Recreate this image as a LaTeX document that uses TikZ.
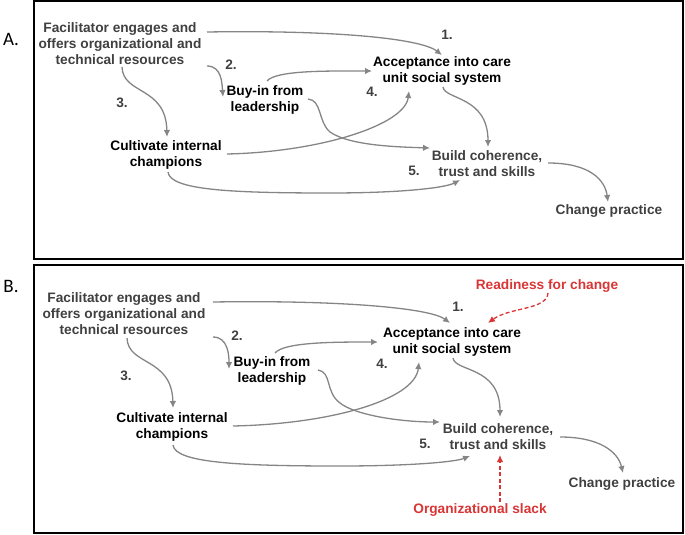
\documentclass[tikz,border=0pt]{standalone}
\usepackage{fontspec}
\setmainfont{Liberation Sans}
\newfontfamily\labfont{Carlito}
\usetikzlibrary{arrows.meta}
\definecolor{dkgray}{HTML}{404040}
\definecolor{arrgray}{HTML}{858585}
\definecolor{redc}{HTML}{D93535}
\tikzset{
  txt/.style={font=\fontsize{13.7}{16}\selectfont\bfseries, align=center, inner sep=0pt},
  gtxt/.style={txt, text=dkgray},
  btxt/.style={txt, text=black},
  rtxt/.style={txt, text=redc},
  numlab/.style={txt, text=dkgray},
  conn/.style={draw=arrgray, line width=1.3pt, -{Latex[length=7pt,width=6.5pt]}},
  rconn/.style={draw=redc, line width=1.3pt, dash pattern=on 4pt off 2.5pt, -{Latex[length=7pt,width=6.5pt]}},
  panel/.style={draw=black, line width=2pt},
  plab/.style={font=\labfont\fontsize{19}{21}\selectfont, inner sep=0pt}
}
\begin{document}
\begin{tikzpicture}[x=1pt,y=-1pt]
\useasboundingbox (0,0) rectangle (685,535);
% panels
\draw[panel] (34,1) rectangle (683,259);
\draw[panel] (34,265) rectangle (683,533);
\node[plab] (labA) at (11,39) {A.};
\node[plab] (labB) at (11,286) {B.};

% ---------- Panel A ----------
\node[gtxt] (facA) at (120,43.5) {Facilitator engages and\\offers organizational and\\technical resources};
\node[btxt] (buyA) at (265,99.5) {Buy-in from\\leadership};
\node[btxt] (cultA) at (166,155) {Cultivate internal\\champions};
\node[btxt] (accA) at (442,71) {Acceptance into care\\unit social system};
\node[gtxt] (buildA) at (487,163.5) {Build coherence,\\trust and skills};
\node[gtxt] (chA) at (609,211) {Change practice};
\node[numlab] (nA1) at (447,35) {1.};
\node[numlab] (nA2) at (231,65) {2.};
\node[numlab] (nA3) at (122,103) {3.};
\node[numlab] (nA4) at (372,92) {4.};
\node[numlab] (nA5) at (414,171) {5.};

\draw[conn] ([shift={(87,-11.5)}]facA.center) .. controls (330,30) and (420,38) .. ([shift={(0,-16)}]accA.center);
\draw[conn] ([shift={(87,22.5)}]facA.center) .. controls (222,66) and (222,84) .. ([shift={(-42,-2.5)}]buyA.center);
\draw[conn] ([shift={(2,23.5)}]facA.center) .. controls (123,95) and (166,86) .. ([shift={(1,-18)}]cultA.center);
\draw[conn] ([shift={(2,-18.5)}]buyA.center) .. controls (276,70) and (330,71) .. ([shift={(-70,0)}]accA.center);
\draw[conn] ([shift={(43,-0.5)}]buyA.center) .. controls (322,100) and (318,122) .. (330,132) .. controls (350,146) and (400,147) .. ([shift={(-57,-15.5)}]buildA.center);
\draw[conn] ([shift={(61,-1)}]cultA.center) .. controls (320,152) and (405,125) .. ([shift={(-33,20)}]accA.center);
\draw[conn] ([shift={(2,17)}]cultA.center) .. controls (170,190) and (230,193) .. (330,193) .. controls (400,193) and (445,188) .. ([shift={(-27,16.5)}]buildA.center);
\draw[conn] ([shift={(1,16)}]accA.center) .. controls (445,100) and (488,96) .. ([shift={(1,-16.5)}]buildA.center);
\draw[conn] ([shift={(61,-0.5)}]buildA.center) .. controls (590,163) and (605,180) .. ([shift={(-1,-9)}]chA.center);

% ---------- Panel B ----------
\node[gtxt] (facB) at (124,314) {Facilitator engages and\\offers organizational and\\technical resources};
\node[btxt] (buyB) at (272,370.5) {Buy-in from\\leadership};
\node[btxt] (cultB) at (172,426.5) {Cultivate internal\\champions};
\node[btxt] (accB) at (452,342) {Acceptance into care\\unit social system};
\node[gtxt] (buildB) at (498,436.5) {Build coherence,\\trust and skills};
\node[gtxt] (chB) at (622,484) {Change practice};
\node[rtxt] (readB) at (547,286) {Readiness for change};
\node[rtxt] (slackB) at (480,510) {Organizational slack};
\node[numlab] (nB1) at (458,307) {1.};
\node[numlab] (nB2) at (237,336) {2.};
\node[numlab] (nB3) at (126,376) {3.};
\node[numlab] (nB4) at (382,364) {4.};
\node[numlab] (nB5) at (425,444) {5.};

\draw[conn] ([shift={(89,-12)}]facB.center) .. controls (340,300) and (430,308) .. ([shift={(-2,-19)}]accB.center);
\draw[conn] ([shift={(89,23)}]facB.center) .. controls (228,337) and (229,355) .. ([shift={(-43,-1.5)}]buyB.center);
\draw[conn] ([shift={(3,24)}]facB.center) .. controls (128,366) and (172,357) .. ([shift={(1,-18.5)}]cultB.center);
\draw[conn] ([shift={(3,-17.5)}]buyB.center) .. controls (284,342) and (335,342) .. ([shift={(-74,0)}]accB.center);
\draw[conn] ([shift={(46,-0.5)}]buyB.center) .. controls (332,372) and (325,392) .. (340,403) .. controls (355,415) and (400,422) .. ([shift={(-58,-14.5)}]buildB.center);
\draw[conn] ([shift={(61,-0.5)}]cultB.center) .. controls (330,424) and (415,400) .. ([shift={(-33,20)}]accB.center);
\draw[conn] ([shift={(1,18.5)}]cultB.center) .. controls (175,463) and (240,466) .. (340,466) .. controls (410,466) and (455,462) .. ([shift={(-28,19.5)}]buildB.center);
\draw[conn] ([shift={(1,16)}]accB.center) .. controls (455,372) and (500,366) .. ([shift={(2,-19.5)}]buildB.center);
\draw[conn] ([shift={(62,0.5)}]buildB.center) .. controls (600,437) and (618,452) .. ([shift={(1,-11)}]chB.center);
\draw[rconn] ([shift={(1,7)}]readB.center) .. controls (547,310) and (510,307) .. ([shift={(36,-19)}]accB.center);
\draw[rconn] ([shift={(20,-8)}]slackB.center) -- ([shift={(2,18.5)}]buildB.center);
\end{tikzpicture}
\end{document}
